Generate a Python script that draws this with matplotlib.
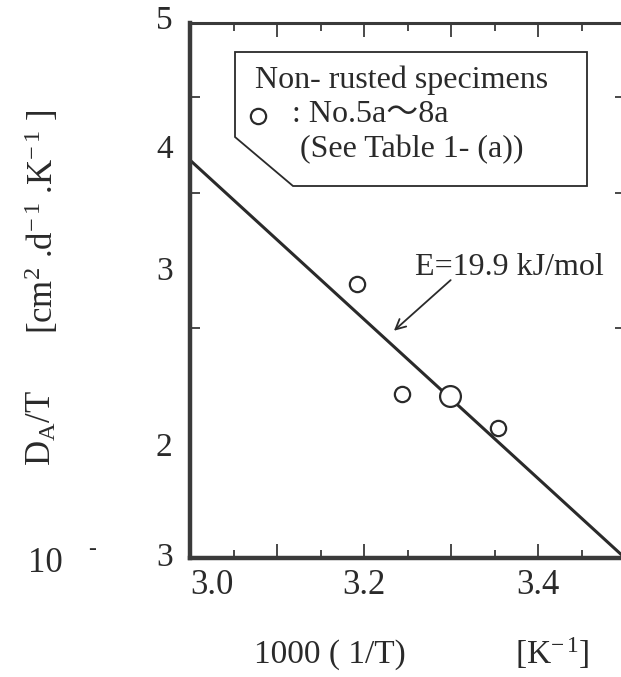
import matplotlib
matplotlib.use("Agg")
import matplotlib.pyplot as plt
from matplotlib.patches import Polygon
from matplotlib.lines import Line2D

# data
inv_t = [3.192, 3.244, 3.299, 3.354]          # 1000/T [1/K]
d_over_t = [2.28e-3, 1.64e-3, 1.63e-3, 1.48e-3]  # D_A/T
big_point = [False, False, True, False]
fit_x = [3.0, 3.5]
fit_y = [3.31e-3, 1.0e-3]
y_ticks = [2e-3, 3e-3, 4e-3]
x_major = [3.0, 3.1, 3.2, 3.3, 3.4]
x_major_labels = ["3.0", "", "3.2", "", "3.4"]
x_minor = [3.05, 3.15, 3.25, 3.35, 3.45]

plt.rcParams["font.family"] = ["Liberation Serif", "Noto Sans CJK JP", "DejaVu Sans"]
plt.rcParams["mathtext.fontset"] = "custom"
plt.rcParams["mathtext.rm"] = "Liberation Serif"
plt.rcParams["mathtext.it"] = "Liberation Serif:italic"

INK = "#2a2a2a"

fig = plt.figure(figsize=(6.21, 6.77), dpi=100)
ax = fig.add_axes([190 / 621, 119 / 677, 435 / 621, 535 / 677])

ax.set_yscale("log")
ax.set_xlim(3.0, 3.5)
ax.set_ylim(1e-3, 5e-3)

# fitted Arrhenius line
ax.plot(fit_x, fit_y, color=INK, lw=2.2, solid_capstyle="butt")

for x, y, big in zip(inv_t, d_over_t, big_point):
    ax.plot(x, y, "o", ms=15 if big else 11, mfc="white", mec=INK, mew=1.6)

# axes styling
for side in ["left", "bottom"]:
    ax.spines[side].set_linewidth(3.2)
for side in ["top", "right"]:
    ax.spines[side].set_linewidth(2.2)
for s in ax.spines.values():
    s.set_color("#3a3a3a")

ax.set_xticks(x_major)
ax.set_xticklabels(x_major_labels, fontsize=25)
ax.set_xticks(x_minor, minor=True)
ax.tick_params(axis="x", which="major", direction="in", length=10, width=1.2,
               top=True, pad=8, colors=INK)
ax.tick_params(axis="x", which="minor", direction="in", length=6, width=1.2, top=True,
               colors=INK)
labs = ax.get_xticklabels()
labs[0].set_horizontalalignment("left")

ax.yaxis.set_minor_locator(matplotlib.ticker.NullLocator())
ax.set_yticks(y_ticks)
ax.set_yticklabels([])
ax.tick_params(axis="y", which="major", direction="in", length=7, width=1.2,
               right=True, colors=INK)

# y tick labels (placed as in the scan)
ylab_pos = [(1.005, "5"), (0.763, "4"), (0.535, "3"), (0.207, "2"), (0.0, "3")]
for yp, t in ylab_pos:
    ax.text(-0.04, yp, t, transform=ax.transAxes, ha="right", va="center",
            fontsize=24, color=INK)
fig.text(28 / 621, 1 - 563 / 677, "10", fontsize=25, ha="left", va="center", color=INK)
fig.text(88 / 621, 1 - 549 / 677, "-", fontsize=17, ha="left", va="center", color=INK)

# axis labels
fig.text(330 / 621, 1 - 655 / 677, "1000 ( 1/T)", fontsize=24, ha="center", va="center",
         color=INK)
fig.text(552 / 621, 1 - 653 / 677, r"[K$^{-\,1}$]", fontsize=24, ha="center", va="center",
         color=INK)
fig.text(42 / 621, 1 - 428 / 677, r"D$_\mathrm{A}$/T", fontsize=25, rotation=90,
         ha="center", va="center", color=INK)
fig.text(42 / 621, 1 - 222 / 677, r"[cm$^{2}$ .d$^{-\,1}$ .K$^{-\,1}$ ]", fontsize=25,
         rotation=90, ha="center", va="center", color=INK)

# legend box with cut corner
box = Polygon([(235 / 621, 1 - 52 / 677), (587 / 621, 1 - 52 / 677),
               (587 / 621, 1 - 186 / 677), (293 / 621, 1 - 186 / 677),
               (235 / 621, 1 - 137 / 677)], closed=True, fill=True, fc="white",
              ec=INK, lw=1.3, transform=fig.transFigure)
fig.add_artist(box)
fig.text(255 / 621, 1 - 80 / 677, "Non- rusted specimens", fontsize=23, ha="left",
         va="center", color=INK)
fig.add_artist(Line2D([258 / 621], [1 - 116 / 677], marker="o", ms=11, mfc="white",
                      mec=INK, mew=1.6, transform=fig.transFigure))
fig.text(292 / 621, 1 - 115 / 677, ": No.5a\u301c8a", fontsize=23, ha="left",
         va="center", color=INK)
fig.text(300 / 621, 1 - 150 / 677, "(See Table 1- (a))", fontsize=23, ha="left",
         va="center", color=INK)

# activation energy annotation
ax.annotate("", xy=(3.232, 1.97e-3), xytext=(3.302, 2.32e-3),
            arrowprops=dict(arrowstyle="->", color=INK, lw=1.3,
                            mutation_scale=18))
fig.text(415 / 621, 1 - 268 / 677, "E=19.9 kJ/mol", fontsize=23, ha="left", va="center",
         color=INK)

plt.savefig("out.png", dpi=100)
plt.close()
